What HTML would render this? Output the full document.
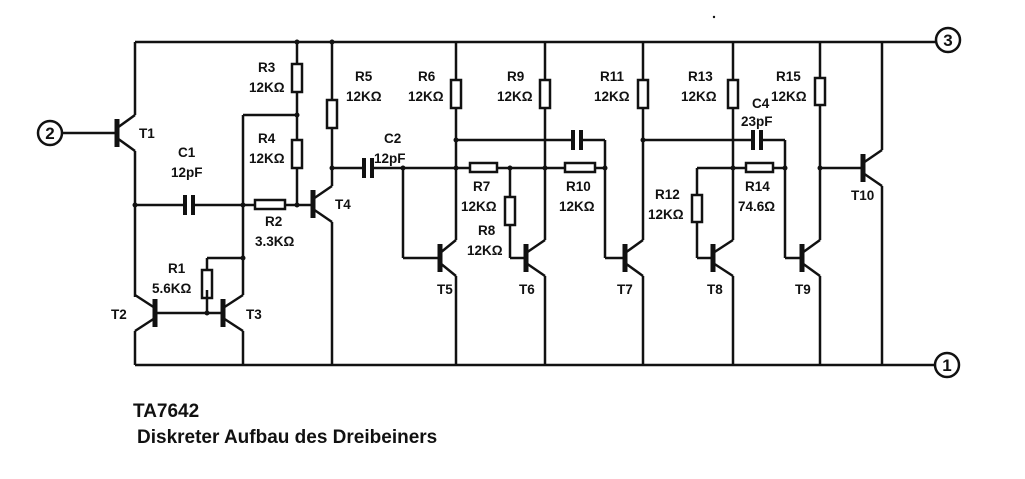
<!DOCTYPE html>
<html><head><meta charset="utf-8"><style>
html,body{margin:0;padding:0;background:#fff;}
svg{display:block}
text{font-family:"Liberation Sans",Arial,sans-serif;font-weight:bold;fill:#111;}
.l{font-size:13.5px}
</style></head><body>
<svg width="1025" height="479" viewBox="0 0 1025 479" xmlns="http://www.w3.org/2000/svg">
<g stroke="#111" stroke-width="2.5" fill="none">
<line x1="135" y1="42" x2="936" y2="42"/>
<line x1="135" y1="365" x2="935" y2="365"/>
<circle cx="948" cy="40" r="12"/>
<circle cx="947" cy="365" r="12"/>
<circle cx="50" cy="133" r="12"/>
<line x1="62" y1="133" x2="117" y2="133"/>
<line x1="135" y1="42" x2="135" y2="115"/>
<line x1="117" y1="128" x2="135" y2="115"/>
<line x1="117" y1="138" x2="135" y2="151"/>
<line x1="135" y1="151" x2="135" y2="297"/>
<line x1="117" y1="119" x2="117" y2="147" stroke-width="5"/>
<line x1="135" y1="205" x2="185" y2="205"/>
<line x1="195" y1="205" x2="255" y2="205"/>
<line x1="185" y1="195" x2="185" y2="215" stroke-width="4"/>
<line x1="193" y1="195" x2="193" y2="215" stroke-width="4"/>
<line x1="155" y1="308" x2="135" y2="295"/>
<line x1="155" y1="318" x2="135" y2="331"/>
<line x1="135" y1="331" x2="135" y2="365"/>
<line x1="155" y1="299" x2="155" y2="327" stroke-width="5"/>
<line x1="155" y1="313" x2="223" y2="313"/>
<line x1="223" y1="299" x2="223" y2="327" stroke-width="5"/>
<line x1="223" y1="308" x2="243" y2="295"/>
<line x1="223" y1="318" x2="243" y2="331"/>
<line x1="243" y1="331" x2="243" y2="365"/>
<line x1="243" y1="295" x2="243" y2="115"/>
<line x1="243" y1="115" x2="297" y2="115"/>
<line x1="207" y1="313" x2="207" y2="290"/>
<rect x="202" y="270" width="10" height="28"/>
<line x1="207" y1="270" x2="207" y2="258"/>
<line x1="207" y1="258" x2="243" y2="258"/>
<rect x="255" y="200" width="30" height="9"/>
<line x1="285" y1="205" x2="313" y2="205"/>
<line x1="297" y1="42" x2="297" y2="64"/>
<rect x="292" y="64" width="10" height="28"/>
<line x1="297" y1="92" x2="297" y2="140"/>
<rect x="292" y="140" width="10" height="28"/>
<line x1="297" y1="168" x2="297" y2="205"/>
<line x1="313" y1="190" x2="313" y2="218" stroke-width="5"/>
<line x1="313" y1="199" x2="332" y2="186"/>
<line x1="313" y1="209" x2="332" y2="222"/>
<line x1="332" y1="222" x2="332" y2="365"/>
<line x1="332" y1="42" x2="332" y2="100"/>
<rect x="327" y="100" width="10" height="28"/>
<line x1="332" y1="128" x2="332" y2="186"/>
<line x1="332" y1="168" x2="364" y2="168"/>
<line x1="364" y1="158" x2="364" y2="178" stroke-width="4"/>
<line x1="372" y1="158" x2="372" y2="178" stroke-width="4"/>
<line x1="372" y1="168" x2="470" y2="168"/>
<rect x="470" y="163" width="27" height="9"/>
<line x1="497" y1="168" x2="565" y2="168"/>
<rect x="565" y="163" width="30" height="9"/>
<line x1="595" y1="168" x2="605" y2="168"/>
<line x1="403" y1="168" x2="403" y2="258"/>
<line x1="403" y1="258" x2="440" y2="258"/>
<line x1="440" y1="244" x2="440" y2="272" stroke-width="5"/>
<line x1="440" y1="253" x2="456" y2="240"/>
<line x1="440" y1="263" x2="456" y2="276"/>
<line x1="456" y1="276" x2="456" y2="365"/>
<line x1="456" y1="42" x2="456" y2="80"/>
<rect x="451" y="80" width="10" height="28"/>
<line x1="456" y1="108" x2="456" y2="240"/>
<line x1="456" y1="140" x2="573" y2="140"/>
<line x1="573" y1="130" x2="573" y2="150" stroke-width="4"/>
<line x1="581" y1="130" x2="581" y2="150" stroke-width="4"/>
<line x1="581" y1="140" x2="605" y2="140"/>
<line x1="605" y1="140" x2="605" y2="258"/>
<line x1="605" y1="258" x2="625" y2="258"/>
<line x1="510" y1="168" x2="510" y2="197"/>
<rect x="505" y="197" width="10" height="28"/>
<line x1="510" y1="225" x2="510" y2="258"/>
<line x1="510" y1="258" x2="526" y2="258"/>
<line x1="526" y1="244" x2="526" y2="272" stroke-width="5"/>
<line x1="526" y1="253" x2="545" y2="240"/>
<line x1="526" y1="263" x2="545" y2="276"/>
<line x1="545" y1="276" x2="545" y2="365"/>
<line x1="545" y1="42" x2="545" y2="80"/>
<rect x="540" y="80" width="10" height="28"/>
<line x1="545" y1="108" x2="545" y2="240"/>
<line x1="625" y1="244" x2="625" y2="272" stroke-width="5"/>
<line x1="625" y1="253" x2="643" y2="240"/>
<line x1="625" y1="263" x2="643" y2="276"/>
<line x1="643" y1="276" x2="643" y2="365"/>
<line x1="643" y1="42" x2="643" y2="80"/>
<rect x="638" y="80" width="10" height="28"/>
<line x1="643" y1="108" x2="643" y2="240"/>
<line x1="643" y1="140" x2="753" y2="140"/>
<line x1="753" y1="130" x2="753" y2="150" stroke-width="4"/>
<line x1="761" y1="130" x2="761" y2="150" stroke-width="4"/>
<line x1="761" y1="140" x2="785" y2="140"/>
<line x1="785" y1="140" x2="785" y2="258"/>
<line x1="785" y1="258" x2="802" y2="258"/>
<line x1="697" y1="168" x2="746" y2="168"/>
<rect x="746" y="163" width="27" height="9"/>
<line x1="773" y1="168" x2="785" y2="168"/>
<line x1="697" y1="168" x2="697" y2="195"/>
<rect x="692" y="195" width="10" height="27"/>
<line x1="697" y1="222" x2="697" y2="258"/>
<line x1="697" y1="258" x2="713" y2="258"/>
<line x1="713" y1="244" x2="713" y2="272" stroke-width="5"/>
<line x1="713" y1="253" x2="733" y2="240"/>
<line x1="713" y1="263" x2="733" y2="276"/>
<line x1="733" y1="276" x2="733" y2="365"/>
<line x1="733" y1="42" x2="733" y2="80"/>
<rect x="728" y="80" width="10" height="28"/>
<line x1="733" y1="108" x2="733" y2="240"/>
<line x1="802" y1="244" x2="802" y2="272" stroke-width="5"/>
<line x1="802" y1="253" x2="820" y2="240"/>
<line x1="802" y1="263" x2="820" y2="276"/>
<line x1="820" y1="276" x2="820" y2="365"/>
<line x1="820" y1="42" x2="820" y2="78"/>
<rect x="815" y="78" width="10" height="27"/>
<line x1="820" y1="105" x2="820" y2="240"/>
<line x1="820" y1="168" x2="863" y2="168"/>
<line x1="863" y1="154" x2="863" y2="182" stroke-width="5"/>
<line x1="863" y1="163" x2="882" y2="150"/>
<line x1="863" y1="173" x2="882" y2="186"/>
<line x1="882" y1="150" x2="882" y2="42"/>
<line x1="882" y1="186" x2="882" y2="365"/>
</g>
<g fill="#111">
<circle cx="135" cy="205" r="2.5"/><circle cx="243" cy="205" r="2.5"/><circle cx="297" cy="205" r="2.5"/>
<circle cx="297" cy="115" r="2.5"/><circle cx="297" cy="42" r="2.5"/><circle cx="332" cy="42" r="2.5"/>
<circle cx="332" cy="168" r="2.5"/><circle cx="403" cy="168" r="2.5"/><circle cx="456" cy="168" r="2.5"/>
<circle cx="456" cy="140" r="2.5"/><circle cx="510" cy="168" r="2.5"/><circle cx="545" cy="168" r="2.5"/>
<circle cx="605" cy="168" r="2.5"/><circle cx="643" cy="140" r="2.5"/><circle cx="733" cy="168" r="2.5"/>
<circle cx="785" cy="168" r="2.5"/><circle cx="820" cy="168" r="2.5"/><circle cx="207" cy="313" r="2.5"/>
<circle cx="243" cy="258" r="2.5"/><circle cx="714" cy="17" r="1.2"/>
</g>
<text x="948" y="46" font-size="17" text-anchor="middle">3</text>
<text x="947" y="371" font-size="17" text-anchor="middle">1</text>
<text x="50" y="139" font-size="17" text-anchor="middle">2</text>
<g class="l">
<text x="139" y="138">T1</text>
<text x="178" y="157">C1</text><text x="171" y="177">12pF</text>
<text x="258" y="72">R3</text><text x="249" y="92">12KΩ</text>
<text x="258" y="143">R4</text><text x="249" y="163">12KΩ</text>
<text x="265" y="226">R2</text><text x="255" y="246">3.3KΩ</text>
<text x="168" y="273">R1</text><text x="152" y="293">5.6KΩ</text>
<text x="111" y="319">T2</text><text x="246" y="319">T3</text>
<text x="335" y="209">T4</text>
<text x="355" y="81">R5</text><text x="346" y="101">12KΩ</text>
<text x="418" y="81">R6</text><text x="408" y="101">12KΩ</text>
<text x="384" y="143">C2</text><text x="374" y="163">12pF</text>
<text x="437" y="294">T5</text>
<text x="507" y="81">R9</text><text x="497" y="101">12KΩ</text>
<text x="600" y="81">R11</text><text x="594" y="101">12KΩ</text>
<text x="688" y="81">R13</text><text x="681" y="101">12KΩ</text>
<text x="776" y="81">R15</text><text x="771" y="101">12KΩ</text>
<text x="752" y="108">C4</text><text x="741" y="126">23pF</text>
<text x="473" y="191">R7</text><text x="461" y="211">12KΩ</text>
<text x="478" y="235">R8</text><text x="467" y="255">12KΩ</text>
<text x="566" y="191">R10</text><text x="559" y="211">12KΩ</text>
<text x="655" y="199">R12</text><text x="648" y="219">12KΩ</text>
<text x="745" y="191">R14</text><text x="738" y="211">74.6Ω</text>
<text x="519" y="294">T6</text><text x="617" y="294">T7</text>
<text x="707" y="294">T8</text><text x="795" y="294">T9</text>
<text x="851" y="200">T10</text>
</g>
<text x="133" y="417" font-size="19">TA7642</text>
<text x="137" y="443" font-size="19">Diskreter Aufbau des Dreibeiners</text>
</svg>
</body></html>
